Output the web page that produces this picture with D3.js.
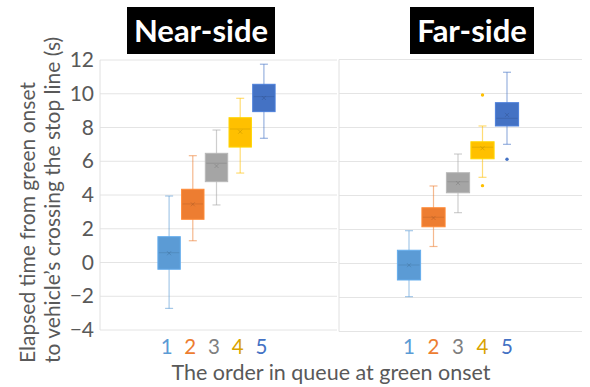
<!DOCTYPE html>
<html><head><meta charset="utf-8">
<script src="https://cdn.jsdelivr.net/npm/d3@7"></script>
<style>
html,body{margin:0;padding:0;background:#fff;}
svg{display:block;}
text{font-family:"Lato","Open Sans",sans-serif;}
</style></head>
<body>
<svg id="chart" width="590" height="387"></svg>
<script>
// ---- data ----
const categories = ["1","2","3","4","5"];
const seriesColors = ["#5B9BD5","#ED7D31","#A5A5A5","#FFC000","#4472C4"];
const labelColors  = ["#5B9BD5","#ED7D31","#7F7F7F","#D9A300","#4472C4"];
const yTicks = [-4,-2,0,2,4,6,8,10,12];

const nearLow    = [-2.72, 1.29, 3.41, 5.30, 7.36];
const nearQ1     = [-0.40, 2.56, 4.79, 6.84, 8.94];
const nearMedian = [ 0.58, 3.47, 5.88, 7.91, 9.83];
const nearQ3     = [ 1.53, 4.34, 6.47, 8.58, 10.56];
const nearHigh   = [ 3.94, 6.33, 7.85, 9.73, 11.75];
const nearMean   = [ 0.55, 3.45, 5.72, 7.75, 9.75];
const nearOutliers = [];

const farLow    = [-1.95, 1.00, 2.99, 5.07, 7.01];
const farQ1     = [-0.97, 2.16, 4.16, 6.16, 8.09];
const farMedian = [-0.09, 2.72, 4.81, 6.84, 8.54];
const farQ3     = [ 0.78, 3.28, 5.34, 7.16, 9.46];
const farHigh   = [ 1.93, 4.56, 6.44, 8.09, 11.25];
const farMean   = [-0.10, 2.68, 4.73, 6.78, 8.74];
const farOutliers = [{cat:"4", v:9.91},{cat:"4", v:4.58},{cat:"5", v:6.13}];

const panelTitles = ["Near-side","Far-side"];
const yTitleLines = ["Elapsed time from green onset","to vehicle\u2019s crossing the stop line (s)"];
const xTitle = "The order in queue at green onset";

// ---- layout ----
const svg = d3.select("#chart");
const panels = [
  {title:panelTitles[0], x0:100, x1:337, yTop:60, yBot:330, center:216.5, step:23.7,
   titleBox:[127,7,148,47],
   low:nearLow,q1:nearQ1,med:nearMedian,q3:nearQ3,high:nearHigh,mean:nearMean,out:nearOutliers},
  {title:panelTitles[1], x0:339, x1:582, yTop:59.5, yBot:331.5, center:458, step:24.5,
   titleBox:[410,7,124,47],
   low:farLow,q1:farQ1,med:farMedian,q3:farQ3,high:farHigh,mean:farMean,out:farOutliers}
];

panels.forEach((p,pi)=>{
  const y = d3.scaleLinear().domain([-4,12]).range([p.yBot,p.yTop]);
  const x = d3.scalePoint().domain(categories)
      .range([p.center-2*p.step, p.center+2*p.step]);
  const boxW = p.step-1.3;
  const g = svg.append("g");

  // gridlines
  g.selectAll("line.grid").data(yTicks).join("line")
    .attr("x1",p.x0).attr("x2",p.x1)
    .attr("y1",d=>y(d)).attr("y2",d=>y(d))
    .attr("stroke","#E4E4E4").attr("stroke-width",1);
  // left border
  g.append("line").attr("x1",p.x0).attr("x2",p.x0)
    .attr("y1",p.yTop).attr("y2",p.yBot)
    .attr("stroke","#E0E0E0").attr("stroke-width",1);

  // y axis labels only in first panel
  if(pi===0){
    const ax = d3.axisLeft(y).tickValues(yTicks).tickSize(0).tickPadding(6);
    const axg = svg.append("g").attr("transform",`translate(${p.x0},0)`).call(ax);
    axg.select(".domain").remove();
    axg.selectAll("text").attr("font-size",21).attr("fill","#595959")
      .style("font-family","Lato, 'Open Sans', sans-serif");
  }

  const idx = categories.map((c,i)=>i);
  // whiskers
  const wg = g.selectAll("g.wh").data(idx).join("g")
    .attr("stroke",i=>seriesColors[i]).attr("stroke-opacity",0.55).attr("stroke-width",1.2);
  wg.append("line").attr("x1",i=>x(categories[i])).attr("x2",i=>x(categories[i]))
    .attr("y1",i=>y(p.high[i])).attr("y2",i=>y(p.low[i]));
  wg.append("line").attr("x1",i=>x(categories[i])-4).attr("x2",i=>x(categories[i])+4)
    .attr("y1",i=>y(p.high[i])).attr("y2",i=>y(p.high[i]));
  wg.append("line").attr("x1",i=>x(categories[i])-4).attr("x2",i=>x(categories[i])+4)
    .attr("y1",i=>y(p.low[i])).attr("y2",i=>y(p.low[i]));

  // boxes
  g.selectAll("rect.box").data(idx).join("rect")
    .attr("x",i=>x(categories[i])-boxW/2).attr("width",boxW)
    .attr("y",i=>y(p.q3[i])).attr("height",i=>y(p.q1[i])-y(p.q3[i]))
    .attr("fill",i=>seriesColors[i])
    .attr("stroke",i=>d3.color(seriesColors[i]).brighter(0.3)).attr("stroke-width",1);

  // median
  g.selectAll("line.med").data(idx).join("line")
    .attr("x1",i=>x(categories[i])-boxW/2+1).attr("x2",i=>x(categories[i])+boxW/2-1)
    .attr("y1",i=>y(p.med[i])).attr("y2",i=>y(p.med[i]))
    .attr("stroke",i=>d3.color(seriesColors[i]).darker(0.6)).attr("stroke-opacity",0.5).attr("stroke-width",1);

  // mean markers (x)
  const s=2;
  g.selectAll("path.mean").data(idx).join("path")
    .attr("d",i=>{const cx=x(categories[i]), cy=y(p.mean[i]);
      return `M${cx-s},${cy-s}L${cx+s},${cy+s}M${cx-s},${cy+s}L${cx+s},${cy-s}`;})
    .attr("stroke",i=>d3.color(seriesColors[i]).darker(0.8)).attr("stroke-opacity",0.5).attr("stroke-width",1);

  // outliers
  g.selectAll("circle.out").data(p.out).join("circle")
    .attr("cx",d=>x(d.cat)).attr("cy",d=>y(d.v)).attr("r",1.7)
    .attr("fill",d=>seriesColors[categories.indexOf(d.cat)]);

  // category labels
  g.selectAll("text.cat").data(idx).join("text")
    .attr("x",i=>x(categories[i]) - (pi===0?2.5:0)).attr("y",354)
    .attr("text-anchor","middle").attr("font-size",20.5)
    .attr("fill",i=>labelColors[i]).text(i=>categories[i]);

  // title box
  const [tx,ty,tw,th] = p.titleBox;
  svg.append("rect").attr("x",tx).attr("y",ty).attr("width",tw).attr("height",th).attr("fill","#000");
  svg.append("text").attr("x",tx+tw/2).attr("y",ty+th/2+11)
    .attr("text-anchor","middle").attr("font-size",31).attr("font-weight","bold")
    .attr("fill","#fff").text(p.title);
});

// y-axis title (two lines, rotated)
svg.append("g")
  .selectAll("text").data(yTitleLines).join("text")
  .attr("transform",(d,i)=>`translate(${34.5+i*25},363) rotate(-90)`)
  .attr("text-anchor","start").attr("font-size",21).attr("fill","#595959")
  .text(d=>d);

// x-axis title
svg.append("text").attr("x",331).attr("y",380).attr("text-anchor","middle")
  .attr("font-size",21.5).attr("fill","#595959").text(xTitle);
</script>
</body></html>
